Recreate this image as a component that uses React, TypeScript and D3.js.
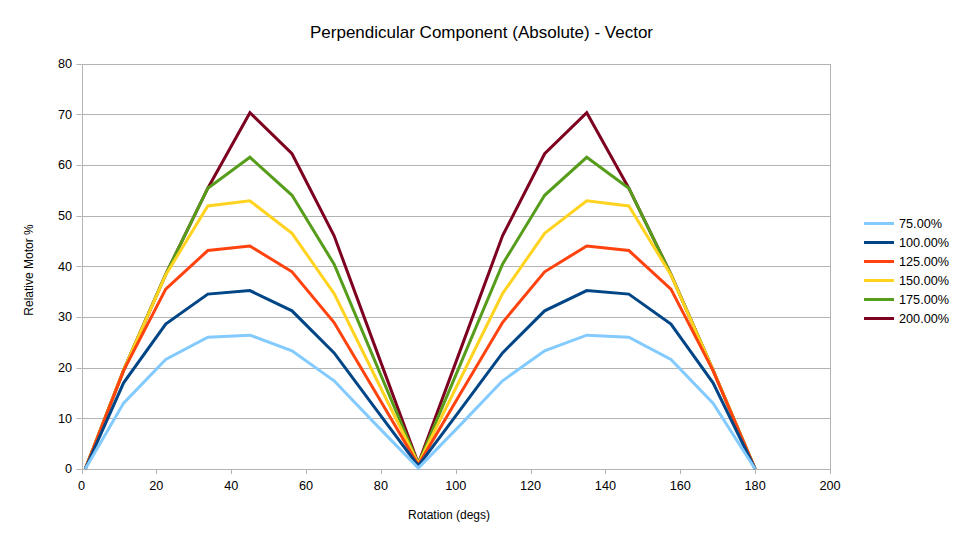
import React from "react";
import * as d3 from "d3";

const rotation = [1, 11.25, 22.5, 33.75, 45, 56.25, 67.5, 78.75, 90, 101.25, 112.5, 123.75, 135, 146.25, 157.5, 168.75, 180];

const seriesNames = ["75.00%", "100.00%", "125.00%", "150.00%", "175.00%", "200.00%"];
const seriesColors = ["#83caff", "#004586", "#ff420e", "#ffd320", "#579d1c", "#7e0021"];

const s75 = [0, 13, 21.6, 26, 26.4, 23.3, 17.4, 8.7, 0.2, 8.7, 17.4, 23.3, 26.4, 26, 21.6, 13, 0];
const s100 = [0, 17, 28.6, 34.5, 35.2, 31.2, 22.9, 11.7, 0.6, 11.7, 22.9, 31.2, 35.2, 34.5, 28.6, 17, 0];
const s125 = [0, 19.4, 35.5, 43.1, 44.0, 38.9, 28.9, 14.9, 0.8, 14.9, 28.9, 38.9, 44.0, 43.1, 35.5, 19.4, 0];
const s150 = [0, 19.5, 38.3, 51.9, 52.9, 46.5, 34.6, 17.8, 1.0, 17.8, 34.6, 46.5, 52.9, 51.9, 38.3, 19.5, 0];
const s175 = [0, 19.5, 38.4, 55.4, 61.5, 54.0, 40.4, 20.7, 1.0, 20.7, 40.4, 54.0, 61.5, 55.4, 38.4, 19.5, 0];
const s200 = [0, 19.5, 38.4, 55.4, 70.3, 62.2, 46.0, 23.5, 1.1, 23.5, 46.0, 62.2, 70.3, 55.4, 38.4, 19.5, 0];

const seriesValues = [s75, s100, s125, s150, s175, s200];

const xTicks = [0, 20, 40, 60, 80, 100, 120, 140, 160, 180, 200];
const yTicks = [0, 10, 20, 30, 40, 50, 60, 70, 80];

const FONT = "'Liberation Sans', Arial, sans-serif";

export default function App() {
  const W = 963;
  const H = 542;
  const left = 81.5;
  const right = 830;
  const top = 63.5;
  const bottom = 469;

  const x = d3.scaleLinear().domain([0, 200]).range([left, right]);
  const y = d3.scaleLinear().domain([0, 80]).range([bottom, top]);

  const line = d3
    .line<[number, number]>()
    .x((d) => x(d[0]))
    .y((d) => y(d[1]));

  const grid = "#b3b3b3";
  const order = [5, 4, 3, 2, 1, 0];

  return (
    <svg
      width={W}
      height={H}
      style={{ position: "absolute", left: 0, top: 0, background: "#fff" }}
      fontFamily={FONT}
    >
      <rect x={0} y={0} width={W} height={H} fill="#fff" />
      <text x={481.5} y={37.5} textAnchor="middle" fontSize={17} fill="#000">
        Perpendicular Component (Absolute) - Vector
      </text>

      {/* horizontal gridlines */}
      {yTicks.map((t) => (
        <line key={"g" + t} x1={left} x2={right} y1={Math.round(y(t)) + 0.5} y2={Math.round(y(t)) + 0.5} stroke={grid} strokeWidth={1} />
      ))}
      {/* y ticks */}
      {yTicks.map((t) => (
        <line key={"yt" + t} x1={left - 5} x2={left} y1={Math.round(y(t)) + 0.5} y2={Math.round(y(t)) + 0.5} stroke={grid} strokeWidth={1} />
      ))}
      {yTicks.map((t) => (
        <text key={"yl" + t} x={72} y={y(t)} dy="0.35em" textAnchor="end" fontSize={12.7} fill="#000">
          {t}
        </text>
      ))}
      {/* x ticks */}
      {xTicks.map((t) => (
        <line key={"xt" + t} x1={Math.round(x(t)) + 0.5} x2={Math.round(x(t)) + 0.5} y1={bottom} y2={bottom + 5} stroke={grid} strokeWidth={1} />
      ))}
      {xTicks.map((t) => (
        <text key={"xl" + t} x={x(t)} y={490} textAnchor="middle" fontSize={12.7} fill="#000">
          {t}
        </text>
      ))}
      {/* plot border */}
      <rect x={Math.round(left) + 0.5} y={Math.round(top) + 0.5} width={Math.round(right) - Math.round(left)} height={Math.round(bottom) - Math.round(top)} fill="none" stroke={grid} strokeWidth={1} />

      {/* series */}
      {order.map((i) => (
        <path
          key={"s" + i}
          d={line(rotation.map((r, k) => [r, seriesValues[i][k]] as [number, number])) || ""}
          fill="none"
          stroke={seriesColors[i]}
          strokeWidth={3}
          strokeLinejoin="miter"
        />
      ))}

      {/* axis titles */}
      <text x={449} y={519} textAnchor="middle" fontSize={12} fill="#000">
        Rotation (degs)
      </text>
      <text transform="translate(33,270) rotate(-90)" textAnchor="middle" fontSize={12} fill="#000">
        Relative Motor %
      </text>

      {/* legend */}
      {seriesNames.map((n, i) => (
        <g key={"l" + i} transform={`translate(0,${223.5 + i * 19})`}>
          <line x1={864} x2={894} y1={0} y2={0} stroke={seriesColors[i]} strokeWidth={3} />
          <text x={899} y={0} dy="0.35em" fontSize={12.7} fill="#000">
            {n}
          </text>
        </g>
      ))}
    </svg>
  );
}
